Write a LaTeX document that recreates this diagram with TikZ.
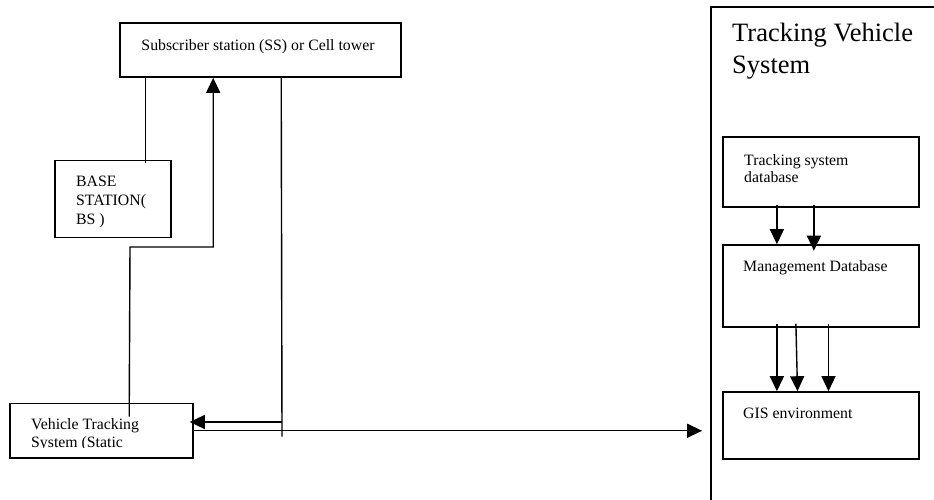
\documentclass[tikz,border=0pt]{standalone}
\usepackage{fontspec}
\setmainfont{Liberation Serif}
\usetikzlibrary{arrows.meta}
\begin{document}
\begin{tikzpicture}[x=1pt,y=-1pt,
  box/.style={draw, line width=1.6pt, inner sep=0pt},
  conn/.style={line width=1.4pt},
  arr/.style={conn, -{Triangle[length=15pt,width=14pt]}},
  txt/.style={inner sep=0pt, font=\fontsize{15.8}{16.5}\selectfont, align=left},
]
\clip (0,0) rectangle (934,499);
% boxes
\node[box, minimum width=281pt, minimum height=54pt] (ss) at (260.5,50) {};
\node[box, minimum width=116pt, minimum height=77pt] (bs) at (113,199) {};
\node[box, minimum width=183pt, minimum height=54.5pt] (vts) at (101.5,430.75) {};
\node[box, line width=1.8pt, minimum width=240pt, minimum height=510pt] (tvs) at (831,262) {};
\node[box, minimum width=196pt, minimum height=70pt] (tsd) at (821,172) {};
\node[box, minimum width=196pt, minimum height=82pt] (md) at (821,286) {};
\node[box, minimum width=196pt, minimum height=67pt] (gis) at (821,425.5) {};
% texts (multi-line nodes are anchored at the baseline of their last line)
\node[txt, anchor=base] (sst) at (258,50.5) {Subscriber station (SS) or Cell tower};
\node[txt, anchor=base west, font=\fontsize{15.8}{19}\selectfont] (bst) at (76,224) {BASE\\STATION(\\BS )};
\begin{scope}
\clip (10,404) rectangle (193,447.5);
\node[txt, anchor=base west, font=\fontsize{15.8}{18}\selectfont] (vtst) at (31,447.3) {Vehicle Tracking\\System (Static};
\end{scope}
\node[txt, anchor=base west, font=\fontsize{26.5}{31.6}\selectfont] (tvst) at (732,73.3) {Tracking Vehicle\\System};
\node[txt, anchor=base west] (tsdt) at (744,182) {Tracking system\\database};
\node[txt, anchor=base west] (mdt) at (743,271.7) {Management Database};
\node[txt, anchor=base west] (gist) at (743,418.3) {GIS environment};
% connectors
\draw[conn] ([xshift=26pt]ss.south west) -- ([xshift=91pt,yshift=-3pt]bs.north west);
\coordinate (j1) at (130,247);
\draw[arr] ([xshift=120pt,yshift=-14pt]vts.north west) -- (j1) -| ([xshift=94pt]ss.south west);
\coordinate (j2) at (282,436.5);
\draw[conn] ([xshift=162pt]ss.south west) -- (j2);
\coordinate (j3) at (282,422);
\draw[arr, shorten >=-4pt] (j3) -- (j3 -| vts.east);
\draw[arr, shorten >=8pt] (vts.east) -- (vts.east -| tvs.west);
\draw[arr] ([xshift=54.7pt,yshift=3pt]tsd.south west) -- ([xshift=54.7pt]md.north west);
\draw[arr] ([xshift=91.7pt,yshift=3pt]tsd.south west) -- ([xshift=91.7pt,yshift=-6.5pt]md.north west);
\draw[arr] ([xshift=54.7pt,yshift=4pt]md.south west) -- ([xshift=54.7pt]gis.north west);
\draw[arr] ([xshift=73.7pt,yshift=4pt]md.south west) -- ([xshift=75.3pt]gis.north west);
\draw[arr] ([xshift=106.3pt,yshift=4pt]md.south west) -- ([xshift=106.3pt]gis.north west);
\end{tikzpicture}
\end{document}
